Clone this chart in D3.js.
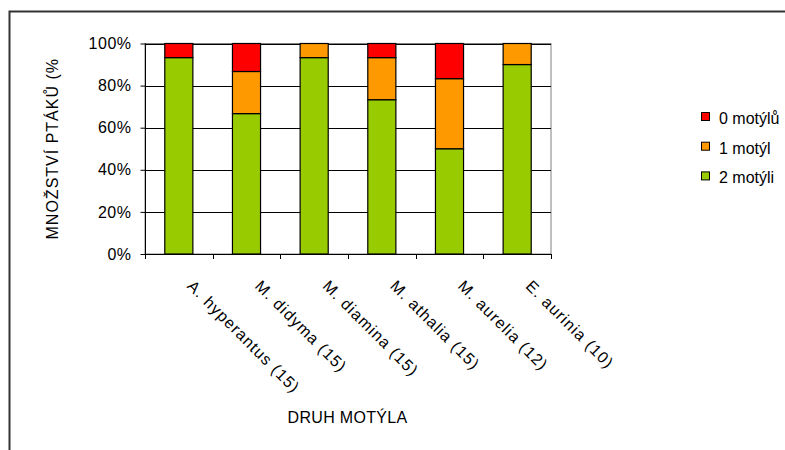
<!DOCTYPE html>
<html>
<head>
<meta charset="utf-8">
<script src="https://cdn.jsdelivr.net/npm/d3@7"></script>
<style>
  html, body { margin: 0; padding: 0; background: #fff; }
  svg { display: block; font-family: "Liberation Sans", Arial, sans-serif; }
</style>
</head>
<body>
<svg id="chart" width="785" height="450"></svg>
<script>
// Butterfly species (sample size in brackets)
const categories = ["A. hyperantus (15)", "M. didyma (15)", "M. diamina (15)", "M. athalia (15)", "M. aurelia (12)", "E. aurinia (10)"];
// Share of birds per outcome, in percent
const twoButterflies = [93.3, 66.7, 93.3, 73.3, 50.0, 90.0];
const oneButterfly   = [0.0, 20.0, 6.7, 20.0, 33.3, 10.0];
const zeroButterflies = [6.7, 13.3, 0.0, 6.7, 16.7, 0.0];
const seriesNames = ["2 motýli", "1 motýl", "0 motýlů"];
const seriesColors = ["#99CC00", "#FF9900", "#FF0000"];
const yTicks = [0, 20, 40, 60, 80, 100];

const svg = d3.select("#chart");
const FONT = 16;
const margin = { left: 145, right: 234, top: 43.5, bottom: 196 };
const W = 785, H = 450;
const x0 = margin.left, x1 = W - margin.right;
const y0 = H - margin.bottom, y1 = margin.top;

// Outer chart frame (only left and top edges visible)
svg.append("path")
  .attr("d", `M9.5,450 V11.5 H785`)
  .attr("fill", "none").attr("stroke", "#333").attr("stroke-width", 2);

const x = d3.scaleBand().domain(categories).range([x0, x1]).paddingInner(0.585).paddingOuter(0.2925);
const y = d3.scaleLinear().domain([0, 100]).range([y0, y1]);

// Plot area border
svg.append("rect")
  .attr("x", x0).attr("y", y1).attr("width", x1 - x0).attr("height", y0 - y1)
  .attr("fill", "none").attr("stroke", "#808080").attr("stroke-width", 1);

// Horizontal gridlines
svg.append("g").selectAll("line").data(yTicks.filter(t => t > 0)).join("line")
  .attr("x1", x0).attr("x2", x1)
  .attr("y1", d => Math.round(y(d)) + 0.5).attr("y2", d => Math.round(y(d)) + 0.5)
  .attr("stroke", "#000").attr("stroke-width", 1);

// Stacked data
const table = categories.map((c, i) => ({
  cat: c,
  "2 motýli": twoButterflies[i],
  "1 motýl": oneButterfly[i],
  "0 motýlů": zeroButterflies[i]
}));
const stacked = d3.stack().keys(seriesNames)(table);

const layers = svg.append("g").selectAll("g").data(stacked).join("g")
  .attr("fill", (d, i) => seriesColors[i]);
layers.selectAll("rect").data(d => d.filter(s => s[1] - s[0] > 0)).join("rect")
  .attr("x", d => x(d.data.cat))
  .attr("width", x.bandwidth())
  .attr("y", d => y(d[1]))
  .attr("height", d => y(d[0]) - y(d[1]))
  .attr("stroke", "#000").attr("stroke-width", 1.2);

// Y axis
const yAxis = d3.axisLeft(y).tickValues(yTicks).tickFormat(d => d + "%").tickSize(5).tickPadding(9);
const gy = svg.append("g").attr("transform", `translate(${x0 + 0.5},0)`).call(yAxis);
gy.select(".domain").attr("stroke", "#000").attr("d", `M0,${y0}V${y1}`);
gy.selectAll(".tick line").attr("stroke", "#000");
gy.selectAll(".tick text").attr("font-size", FONT).attr("fill", "#000")
  .attr("letter-spacing", 0.5)
  .attr("font-family", "Liberation Sans, Arial, sans-serif");

// X axis: baseline with ticks at category boundaries
const xBoundaries = d3.range(categories.length + 1).map(i => x0 + i * (x1 - x0) / categories.length);
svg.append("line").attr("x1", x0).attr("x2", x1).attr("y1", y0 + 0.5).attr("y2", y0 + 0.5)
  .attr("stroke", "#000");
svg.append("g").selectAll("line").data(xBoundaries).join("line")
  .attr("x1", d => Math.round(d) + 0.5).attr("x2", d => Math.round(d) + 0.5)
  .attr("y1", y0).attr("y2", y0 + 5).attr("stroke", "#000");

// Rotated category labels
svg.append("g").selectAll("text").data(categories).join("text")
  .attr("transform", d => `translate(${x(d) + x.bandwidth() / 2 + 7.5},${y0 + 33}) rotate(45)`)
  .attr("font-size", FONT).attr("letter-spacing", 1.1).attr("fill", "#000")
  .text(d => d);

// Axis titles
svg.append("text").attr("x", 347.5).attr("y", 423).attr("text-anchor", "middle")
  .attr("font-size", FONT).attr("letter-spacing", 0.3).text("DRUH MOTÝLA");
svg.append("text")
  .attr("transform", `translate(58,${(y0 + y1) / 2}) rotate(-90)`)
  .attr("text-anchor", "middle").attr("font-size", FONT).attr("letter-spacing", 1)
  .text("MNOŽSTVÍ PTÁKŮ (%");

// Legend (top entry = last stacked series)
const legendItems = [2, 1, 0];
const lg = svg.append("g").selectAll("g").data(legendItems).join("g")
  .attr("transform", (d, i) => `translate(701.5,${112.5 + i * 29.7})`);
lg.append("rect").attr("width", 8).attr("height", 8)
  .attr("fill", d => seriesColors[d]).attr("stroke", "#000").attr("stroke-width", 1);
lg.append("text").attr("x", 17.5).attr("y", 11.5).attr("font-size", FONT)
  .text(d => seriesNames[d]);
</script>
</body>
</html>
